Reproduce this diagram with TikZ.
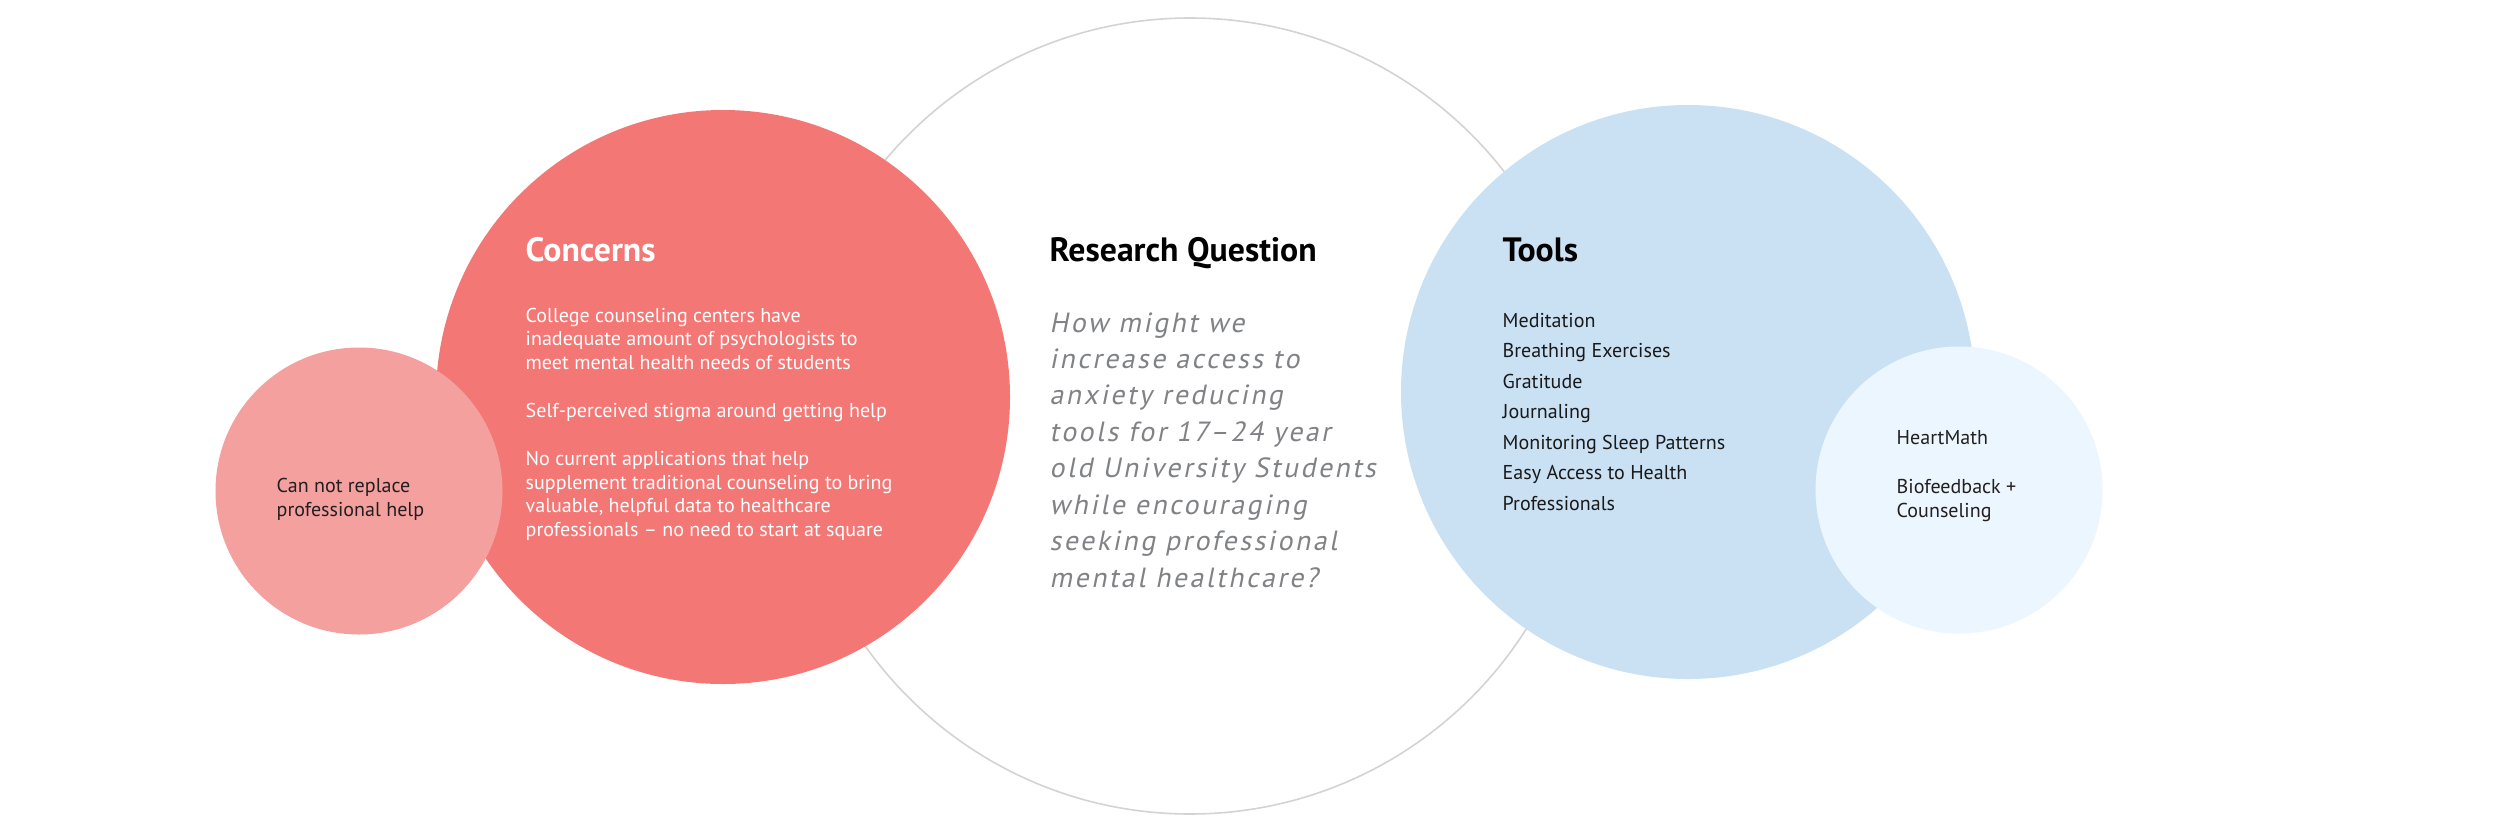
\documentclass[tikz,border=0pt]{standalone}
\usepackage{fontspec}
\setmainfont{PT Sans}
\newfontfamily\slantfont[FakeSlant=0.2,LetterSpace=9,Ligatures=TeX]{PT Sans}
\usetikzlibrary{positioning}

\definecolor{concernred}{HTML}{F37775}
\definecolor{concernpink}{HTML}{F4A09F}
\definecolor{toolblue}{HTML}{CAE1F4}
\definecolor{toolpale}{HTML}{EBF6FE}
\definecolor{ringgray}{HTML}{D3D3D3}
\definecolor{questgray}{HTML}{808285}
\definecolor{inkdark}{HTML}{231F20}

\newcommand{\bodysize}[1]{\fontsize{5.7pt}{#1}\selectfont}

\tikzset{
  bubble/.style={circle,inner sep=0pt,minimum size=#1*0.01cm},
  heading/.style={anchor=base west,inner sep=0pt,font=\bfseries\fontsize{9.6pt}{11pt}\selectfont},
  blurb/.style={anchor=base west,inner sep=0pt}
}

\begin{document}
\begin{tikzpicture}[x=0.01cm,y=-0.01cm]
  \useasboundingbox[fill=white] (0,0) rectangle (2500,833);
  % the circles, back to front
  \node[bubble=796,fill=white,draw=ringgray,line width=0.45pt] (question) at (1190,416) {};
  \node[bubble=574,fill=concernred] (concerns) at (723,397) {};
  \node[bubble=287,fill=concernpink] (replace) at (359,491) {};
  \node[bubble=574,fill=toolblue] (tools) at (1688,392) {};
  \node[bubble=287,fill=toolpale] (heartmath) at (1959,490) {};
  % headings
  \node[heading,text=white] (concernstitle) at (525,261) {Concerns};
  \node[heading,text=black] (questiontitle) at (1049,261) {Research Question};
  \node[heading,text=black] (toolstitle) at (1502,261) {Tools};
  % texts
  \node[blurb,text=white] (concernstext) at (525,322) {\parbox[t]{4.5cm}{\raggedright\bodysize{6.74pt}%
    College counseling centers have\\
    inadequate amount of psychologists to\\
    meet mental health needs of students\\[6.9pt]
    Self-perceived stigma around getting help\\[6.9pt]
    No current applications that help\\
    supplement traditional counseling to bring\\
    valuable, helpful data to healthcare\\
    professionals -- no need to start at square}};
  \node[blurb,text=questgray] (questiontext) at (1049,332) {\parbox[t]{4.5cm}{\raggedright\slantfont\fontsize{7.9pt}{10.36pt}\selectfont
    How might we\\
    increase access to\\
    anxiety reducing\\
    tools for 17--24 year\\
    old University Students\\
    while encouraging\\
    seeking professional\\
    mental healthcare?}};
  \node[blurb,text=black!90] (toolstext) at (1502,327) {\parbox[t]{3.8cm}{\raggedright\bodysize{8.68pt}%
    Meditation\\
    Breathing Exercises\\
    Gratitude\\
    Journaling\\
    Monitoring Sleep Patterns\\
    Easy Access to Health\\
    Professionals}};
  \node[blurb,text=inkdark] (replacetext) at (276,492) {\parbox[t]{2.2cm}{\raggedright\bodysize{7.1pt}%
    Can not replace\\
    professional help}};
  \node[blurb,text=inkdark] (heartmathtext) at (1896,444) {\parbox[t]{2.2cm}{\raggedright\bodysize{6.97pt}%
    HeartMath\\[6.97pt]
    Biofeedback +\\
    Counseling}};
\end{tikzpicture}
\end{document}
